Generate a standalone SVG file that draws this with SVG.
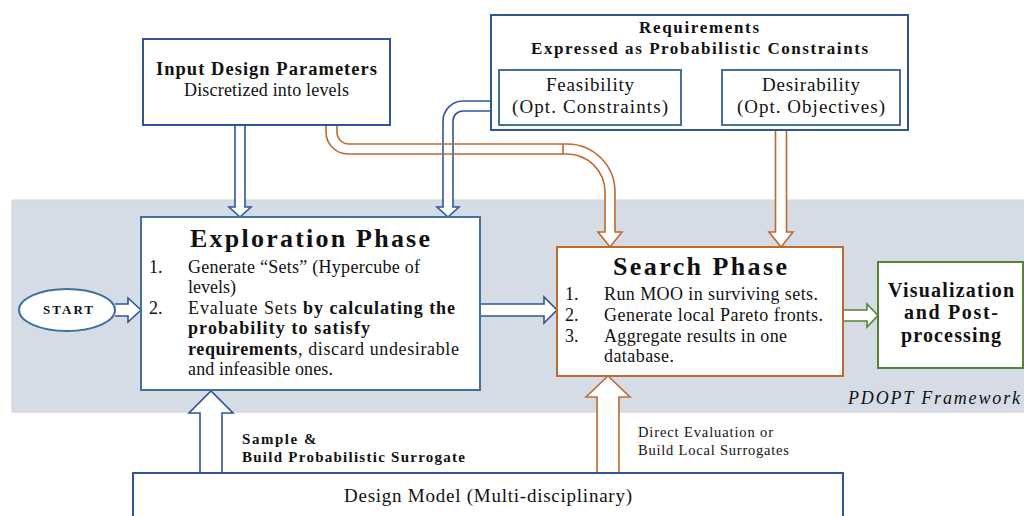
<svg xmlns="http://www.w3.org/2000/svg" width="1024" height="516" viewBox="0 0 1024 516">
<style>
text{font-family:"Liberation Serif","Times New Roman",serif;fill:#111}
.b{font-weight:bold}
.box{fill:#fff;stroke-width:2}
.dk{stroke:#2f5597}
.lt{stroke:#41719c}
.or{stroke:#c0692d}
.gr{stroke:#548235}
.fillw{fill:#fff;stroke:none}
.ln{fill:none;stroke-width:1.6;stroke-linejoin:miter}
</style>
<rect x="12" y="200" width="1013" height="212" fill="#d6dce5" stroke="#d2d2d2" stroke-width="1"/>

<g id="connectors">
  <g id="fills">
    <path class="fillw" d="M235,125 V207 H229 L240,217 L251,207 H245 V125 Z"/>
    <path class="fillw" d="M491,101 H463 A20,20 0 0 0 443,121 V207 H437 L448,217 L459,207 H453 V121 A10,10 0 0 1 463,111 H491 Z"/>
    <path class="fillw" d="M326,125 V132 A22,22 0 0 0 348,154 H567 A38,38 0 0 1 605,192 V232 H598 L610,247 L622,232 H615 V192 A48,48 0 0 0 567,144 H349 A12,12 0 0 1 337,132 V125 Z"/>
    <path class="fillw" d="M775.5,130 V232 H769 L781,247 L793,232 H786.5 V130 Z"/>
    <path class="fillw" d="M115,304 H128 V298 L141,310 L128,322 V316 H115 Z"/>
    <path class="fillw" d="M480,304 H544 V297 L557,310 L544,323 V316 H480 Z"/>
    <path class="fillw" d="M843,310 H867 V304 L878,315.5 L867,327 V321 H843 Z"/>
    <path class="fillw" d="M200,473 V413 H189 L211,391 L233,413 H222 V473 Z"/>
    <path class="fillw" d="M597,473 V397 H586 L608,376 L630,397 H619 V473 Z"/>
  </g>
  <g id="outlines">
    <path class="ln dk" d="M235,125 V207 H229 L240,217 L251,207 H245 V125"/>
    <path class="ln dk" d="M491,101 H463 A20,20 0 0 0 443,121 V207 H437 L448,217 L459,207 H453 V121 A10,10 0 0 1 463,111 H491"/>
    <path class="ln or" d="M326,125 V132 A22,22 0 0 0 348,154 H567 A38,38 0 0 1 605,192 V232 H598 L610,247 L622,232 H615 V192 A48,48 0 0 0 567,144 H349 A12,12 0 0 1 337,132 V125"/>
    <line class="ln or" x1="563" y1="144" x2="563" y2="154"/>
    <path class="ln or" d="M775.5,130 V232 H769 L781,247 L793,232 H786.5 V130"/>
    <path class="ln dk" d="M115,304 H128 V298 L141,310 L128,322 V316 H115"/>
    <path class="ln dk" d="M480,304 H544 V297 L557,310 L544,323 V316 H480"/>
    <path class="ln gr" d="M843,310 H867 V304 L878,315.5 L867,327 V321 H843"/>
    <path class="ln dk" d="M200,473 V413 H189 L211,391 L233,413 H222 V473"/>
    <path class="ln or" d="M597,473 V397 H586 L608,376 L630,397 H619 V473"/>
  </g>
  <g id="connector-labels">
    <text class="b" font-size="15" x="242" y="444" textLength="74.5" lengthAdjust="spacing">Sample &amp;</text>
    <text class="b" font-size="15" x="242" y="462" textLength="223" lengthAdjust="spacing">Build Probabilistic Surrogate</text>
    <text font-size="14.5" x="638" y="437" textLength="135" lengthAdjust="spacing">Direct Evaluation or</text>
    <text font-size="14.5" x="638" y="455" textLength="151" lengthAdjust="spacing">Build Local Surrogates</text>
  </g>
</g>

<g id="input">
  <rect class="box dk" x="143" y="39" width="247" height="86"/>
  <text class="b" font-size="18.5" x="156" y="75" textLength="221" lengthAdjust="spacing">Input Design Parameters</text>
  <text font-size="18" x="184" y="96" textLength="165" lengthAdjust="spacing">Discretized into levels</text>
</g>

<g id="requirements">
  <rect class="box dk" x="491" y="15" width="417" height="115"/>
  <text class="b" font-size="17" x="639" y="33" textLength="120" lengthAdjust="spacing">Requirements</text>
  <text class="b" font-size="17" x="531" y="54" textLength="337" lengthAdjust="spacing">Expressed as Probabilistic Constraints</text>
</g>
<g id="feasibility">
  <rect class="box lt" x="499" y="70" width="182" height="55"/>
  <text font-size="19" x="546" y="91" textLength="88" lengthAdjust="spacing">Feasibility</text>
  <text font-size="19" x="512" y="113" textLength="156" lengthAdjust="spacing">(Opt. Constraints)</text>
</g>
<g id="desirability">
  <rect class="box lt" x="722" y="70" width="178" height="55"/>
  <text font-size="19" x="762" y="91" textLength="98" lengthAdjust="spacing">Desirability</text>
  <text font-size="19" x="737" y="113" textLength="148" lengthAdjust="spacing">(Opt. Objectives)</text>
</g>

<g id="start">
  <ellipse cx="67" cy="310" rx="48" ry="21" fill="#fff" stroke="#41719c" stroke-width="2"/>
  <text class="b" font-size="13" x="43" y="314" textLength="50" lengthAdjust="spacing">START</text>
</g>

<g id="exploration">
  <rect class="box lt" x="141" y="217" width="339" height="173"/>
  <text class="b" font-size="26" x="190" y="247" textLength="240" lengthAdjust="spacing">Exploration Phase</text>
  <text font-size="18" x="149" y="272.5">1.</text>
  <text font-size="18" x="188" y="272.5" textLength="232" lengthAdjust="spacing">Generate “Sets” (Hypercube of</text>
  <text font-size="18" x="188" y="293">levels)</text>
  <text font-size="18" x="149" y="313.5">2.</text>
  <text font-size="18" x="188" y="313.5" textLength="267" lengthAdjust="spacing">Evaluate Sets <tspan class="b">by calculating the</tspan></text>
  <text class="b" font-size="18" x="188" y="334" textLength="182" lengthAdjust="spacing">probability to satisfy</text>
  <text font-size="18" x="188" y="354.5" textLength="271" lengthAdjust="spacing"><tspan class="b">requirements</tspan>, discard undesirable</text>
  <text font-size="18" x="188" y="375" textLength="145" lengthAdjust="spacing">and infeasible ones.</text>
</g>

<g id="search">
  <rect class="box or" x="557" y="247" width="286" height="129"/>
  <text class="b" font-size="26" x="613" y="275" textLength="174" lengthAdjust="spacing">Search Phase</text>
  <text font-size="18" x="565" y="300">1.</text>
  <text font-size="18" x="604" y="300" textLength="214" lengthAdjust="spacing">Run MOO in surviving sets.</text>
  <text font-size="18" x="565" y="321">2.</text>
  <text font-size="18" x="604" y="321" textLength="219" lengthAdjust="spacing">Generate local Pareto fronts.</text>
  <text font-size="18" x="565" y="342">3.</text>
  <text font-size="18" x="604" y="342" textLength="183" lengthAdjust="spacing">Aggregate results in one</text>
  <text font-size="18" x="604" y="362" textLength="70" lengthAdjust="spacing">database.</text>
</g>

<g id="visualization">
  <rect class="box gr" x="878" y="262" width="145" height="106"/>
  <text class="b" font-size="20" x="888" y="297" textLength="126" lengthAdjust="spacing">Visualization</text>
  <text class="b" font-size="20" x="904" y="319" textLength="94" lengthAdjust="spacing">and Post-</text>
  <text class="b" font-size="20" x="901" y="342" textLength="100" lengthAdjust="spacing">processing</text>
</g>

<g id="design-model">
  <rect class="box dk" x="133" y="473" width="710" height="60"/>
  <text font-size="19" x="344" y="502" textLength="288" lengthAdjust="spacing">Design Model (Multi-disciplinary)</text>
</g>

<g id="framework-label">
  <text font-size="18" font-style="italic" x="848" y="404" textLength="172" lengthAdjust="spacing">PDOPT Framework</text>
</g>
</svg>
